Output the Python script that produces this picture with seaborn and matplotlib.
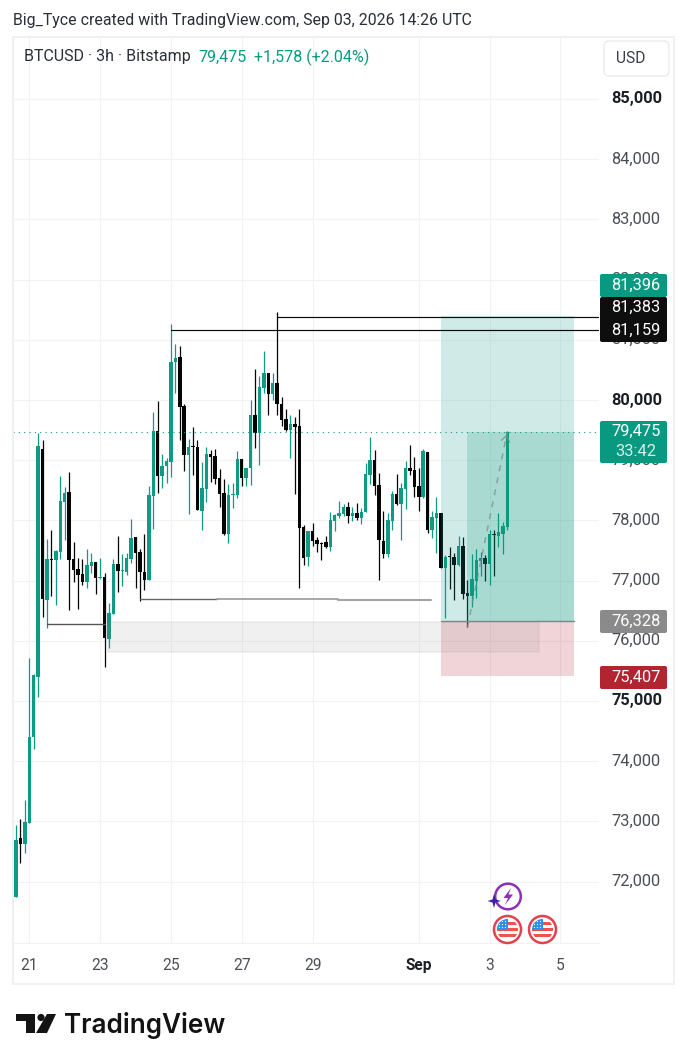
import numpy as np
import pandas as pd
import seaborn as sns
import matplotlib
matplotlib.use("Agg")
import matplotlib.pyplot as plt
from matplotlib.patches import Rectangle, Circle, Polygon, FancyBboxPatch

first_bar = -3
opens = [71745,72725,72625,72974,74402,75399,79186,76678,77359,77342,77475,78306,78472,77359,77193,77110,76977,77243,77309,77043,
77060,76030,76445,77276,77160,77143,77359,77725,77475,77143,77010,78405,79485,78738,78904,78970,80631,80714,79900,79086,
79236,79219,78156,78522,79103,79070,78704,78455,77774,78422,78422,79020,78704,78870,79751,79452,80199,80448,80100,80282,
79934,79684,79502,79601,79568,77891,77392,77824,77675,77625,77641,77558,77990,78073,78106,78223,78073,78123,78040,78140,
78754,79003,78588,77658,77442,77990,78439,78273,78522,78870,78837,78572,78389,79136,77841,78040,78123,77209,77409,77392,
77259,77575,76794,76744,76994,77326,77376,77276,77774,77741,77774,77897]
highs = [72941,73040,73356,75715,75449,79452,79336,77691,77841,77509,78738,78555,78804,77641,77376,77359,77525,77459,77309,77376,
77126,76628,77359,77741,77442,77459,78023,77725,77525,77774,78572,79801,79983,79103,79037,81262,80930,80897,79934,79352,
79552,79336,78970,79219,79170,79186,78854,78688,78605,78621,79153,79020,78870,80000,80515,80399,80814,80448,80448,81462,
80050,79851,79751,79718,79851,77924,77824,77957,77724,77641,77741,78140,78106,78322,78273,78306,78223,78289,78206,78954,
79385,79170,78787,78156,78123,78488,78771,78621,78987,79253,79053,78870,79186,79136,78156,78389,78123,77425,77558,77459,
77741,77724,77010,77442,77525,77475,77425,77841,77841,78123,77974,79485]
lows = [71745,72310,72476,72974,74203,75067,76396,76213,76744,76595,77359,77675,76512,76977,76529,76927,76877,77126,76778,77027,
75565,75881,76445,76811,76911,77093,77293,76877,76661,76844,77010,77857,78455,78538,78621,78721,80116,79336,78821,78106,
78754,78173,77841,78306,78638,78605,78223,77758,77625,78206,78372,78572,78572,78588,79203,78920,80116,79751,80000,79751,
79568,79485,79037,78439,76877,77259,77243,77575,77475,77342,77542,77492,77824,78040,78073,77957,77990,78007,77940,78140,
78605,78422,77010,77376,77392,77841,78256,77675,78190,78754,78389,78156,78372,77791,77708,77459,77209,76379,76861,76678,
77243,76695,76229,76562,76711,77077,76994,76927,77077,77558,77442,77841]
closes = [72692,72625,72991,74402,75432,79236,76695,77359,77342,77492,78322,78455,77342,77176,77093,76977,77259,77309,77043,77060,
76047,76462,77276,77160,77176,77376,77708,77459,77143,77010,78422,79485,78738,78904,78987,80631,80698,79884,79086,79219,
79219,78173,78538,79103,79053,78688,78439,77774,78422,78439,79020,78704,78870,79751,79452,80216,80448,80100,80282,79934,
79668,79502,79601,79552,77874,77376,77824,77658,77608,77608,77558,78007,78090,78123,78223,78073,78123,78040,78140,78771,
79003,78572,77675,77442,78007,78439,78273,78538,78870,78821,78555,78389,79153,77841,78057,78123,77209,77392,77392,77259,
77575,76778,76744,77027,77342,77376,77276,77774,77758,77807,77907,79475]

y_ticks = [72000,73000,74000,75000,76000,77000,78000,79000,80000,81000,82000,83000,84000,85000]
bold_prices = [75000,80000,85000]
date_bars = [0,16,32,48,64,88,104,120]
date_labels = ["21","23","25","27","29","Sep","3","5"]

last_price = 79475
entry_price = 76328
target_price = 81396
stop_price = 75407
level_a = 81159
level_b = 81383
gap_low, gap_high = 75814, 76313
sweep_a = 76280
sweep_b = 76690

GREEN = "#089981"
BODY_GREEN = "#0f9a83"
BLACK = "#050505"
GRID = "#f0f2f4"
TEXT = "#4a4d57"

sns.set_theme(style="white", rc={"axes.facecolor": "white", "figure.facecolor": "white"})
plt.rcParams["font.family"] = ["Roboto", "DejaVu Sans"]

W, H = 686, 1064
fig = plt.figure(figsize=(W/100, H/100), dpi=100)
L, R, T, B = 13, 599, 37, 943
ax = fig.add_axes([L/W, 1-B/H, (R-L)/W, (B-T)/H])

BAR0, BARW = 29.3, 4.426
PX_PER_1000 = 60.2
def px_x(i): return BAR0 + BARW*i
def inv_x(px): return (px-BAR0)/BARW
def inv_y(px): return 80000 + (400-px)/PX_PER_1000*1000

df = pd.DataFrame({"bar": np.arange(first_bar, first_bar+len(opens)),
                   "open": opens, "high": highs, "low": lows, "close": closes})
df["up"] = df["close"] >= df["open"]
df["lo"] = df[["open","close"]].min(axis=1)
df["size"] = (df["close"]-df["open"]).abs().clip(lower=16)

for flag_up, col in [(True, BODY_GREEN), (False, BLACK)]:
    sub = df[df["up"] == flag_up]
    ax.vlines(sub["bar"], sub["low"], sub["high"], color=col, lw=0.9, zorder=3)
    sns.barplot(data=sub, x="bar", y="size", bottom=sub["lo"].values, native_scale=True,
                color=col, saturation=1, width=0.78, gap=0, errorbar=None, legend=False,
                linewidth=0, zorder=4, ax=ax)

ax.set_xlim(inv_x(L), inv_x(R))
ax.set_ylim(inv_y(B), inv_y(T))
ax.set_xlabel(""); ax.set_ylabel("")
for s in ["top","left","right"]:
    ax.spines[s].set_visible(False)
ax.spines["bottom"].set_color(GRID)
ax.spines["bottom"].set_linewidth(0.8)
ax.set_axisbelow(True)
ax.grid(True, color=GRID, lw=0.75)
ax.yaxis.tick_right()
ax.set_yticks(y_ticks)
ax.set_yticklabels([f"{v:,}" for v in y_ticks])
ax.set_xticks(date_bars)
ax.set_xticklabels(date_labels)
ax.tick_params(axis="y", length=0, pad=8.7, labelsize=11.8, labelcolor=TEXT)
ax.tick_params(axis="x", length=0, pad=10.5, labelsize=11.2, labelcolor=TEXT)
for lab, v in zip(ax.get_yticklabels(), y_ticks):
    lab.set_verticalalignment("center")
    if v in bold_prices:
        lab.set_fontweight("bold"); lab.set_color("#1c1e26")
for lab, s in zip(ax.get_xticklabels(), date_labels):
    if s == "Sep":
        lab.set_fontweight("bold"); lab.set_color("#1c1e26")

# drawing tools in price / bar space
def box(x0, x1, p0, p1, **kw):
    ax.add_patch(Rectangle((x0, p0), x1-x0, p1-p0, **kw))
tool0, tool1, tool2 = inv_x(441), inv_x(574), inv_x(467)
box(tool0, tool1, entry_price, target_price, fc=GREEN, alpha=0.19, lw=0, zorder=5)
box(tool2, tool1, entry_price, last_price, fc=GREEN, alpha=0.20, lw=0, zorder=5)
box(tool0, tool1, stop_price, entry_price, fc="#b8283a", alpha=0.20, lw=0, zorder=5)
ax.plot([tool0, tool1], [entry_price]*2, color="#7d8586", lw=1.0, zorder=6)
box(17.8, inv_x(539), gap_low, gap_high, fc="#8a8a8a", ec="#8a8a8a", alpha=0.12, lw=1.1, zorder=5)
ax.plot([4, 17], [sweep_a]*2, color="#555555", lw=1.0, zorder=6)
ax.plot([25, inv_x(217)], [sweep_b]*2, color="#666666", lw=1.0, zorder=6)
ax.plot([inv_x(217), inv_x(338)], [sweep_b]*2, color="#9a9a9a", lw=1.2, zorder=6)
ax.plot([inv_x(338), inv_x(431.5)], [sweep_b-8]*2, color="#a3a3a3", lw=1.5, zorder=6)
ax.plot([32, inv_x(R)], [level_a]*2, color="#0b0b0b", lw=0.85, zorder=7)
ax.plot([56, inv_x(R)], [level_b]*2, color="#0b0b0b", lw=0.85, zorder=7)
ax.plot([inv_x(L), inv_x(R)], [last_price]*2, color=GREEN, lw=0.8, ls=(0,(1,3.8)), zorder=7)
ax.plot([99, 108], [76229, last_price], color="#7f8f8c", alpha=0.75, lw=1.1, ls=(0,(4,4)), zorder=7)
ax.annotate("", xy=(108, last_price), xytext=(107.6, last_price-150),
            arrowprops=dict(arrowstyle="->,head_length=0.35,head_width=0.25", color="#7f8f8c", alpha=0.8, lw=1.0), zorder=7)

# overlay in figure pixels for badges, header and logo
ov = fig.add_axes([0,0,1,1], zorder=10)
ov.set_xlim(0, W); ov.set_ylim(H, 0); ov.axis("off"); ov.patch.set_alpha(0)
ov.add_patch(Rectangle((12.5,36.5), 661, 947, fc="none", ec="#eef0f2", lw=1.4))

ov.text(13, 21, "Big_Tyce created with TradingView.com, Sep 03, 2026 14:26 UTC", fontsize=11.45, color="#2a2e39", va="center")
ov.text(24, 57, "BTCUSD · 3h · Bitstamp", fontsize=11.5, color="#2a2e39", va="center")
ov.text(198, 57, "79,475", fontsize=11.5, color=GREEN, va="center")
ov.text(254, 57, "+1,578 (+2.04%)", fontsize=11.5, color=GREEN, va="center")
ov.add_patch(FancyBboxPatch((607,44), 59, 29, boxstyle="round,pad=3,rounding_size=5", fc="white", ec="#e9ebee", lw=1))
ov.text(631, 58.5, "USD", fontsize=11.2, color="#3a3d47", ha="center", va="center")

def badge(y0, y1, color, lines, colors=None):
    ov.add_patch(FancyBboxPatch((600.5,y0+0.5), 66, y1-y0-1, boxstyle="round,pad=0.5,rounding_size=2", fc=color, ec="none"))
    n = len(lines)
    for k, s in enumerate(lines):
        yc = y0 + (y1-y0)*(k+0.5)/n - 0.5
        ov.text(636, yc, s, fontsize=11.8, color=(colors or ["white"]*n)[k], ha="center", va="center")

badge(274, 297, GREEN, [f"{target_price:,}"])
badge(297, 342, "#0e0e0e", [f"{level_b:,}", f"{level_a:,}"])
badge(421, 463, GREEN, [f"{last_price:,}", "33:42"], ["white", "#d5efe9"])
badge(610, 633, "#8a8a8a", [f"{entry_price:,}"])
badge(666, 689, "#b2242f", [f"{stop_price:,}"])

# calendar icons
def flag(cx, cy):
    ov.add_patch(Circle((cx,cy), 13.5, fc="white", ec="#e5404f", lw=1.8))
    clip = Circle((cx,cy), 10.5, transform=ov.transData)
    items = [Rectangle((cx-11,cy-11), 22, 22, fc="white", ec="none")]
    for dy in (-6, 0, 6):
        items.append(Rectangle((cx-11,cy+dy-2), 22, 3.2, fc="#ef5350", ec="none"))
    items.append(Rectangle((cx-11,cy-11), 11.5, 11, fc="#2f8fe8", ec="none"))
    for it in items:
        ov.add_patch(it); it.set_clip_path(clip)
    for a in (-8,-5,-2):
        for b in (-8,-5,-2):
            d = Circle((cx+a,cy+b), 0.6, fc="white", ec="none"); ov.add_patch(d)
flag(507.5, 929.5); flag(542.5, 929.5)
ov.add_patch(Circle((508,896.5), 12.8, fc="white", ec="#8e2fb8", lw=1.8))
ov.add_patch(Polygon([(511,888),(503.5,898),(508,898),(505,905),(513,894.5),(508.5,894.5)], fc="#8e2fb8", ec="none"))
ov.add_patch(Polygon([(494,894),(495.5,899.5),(501,901),(495.5,902.5),(494,908),(492.5,902.5),(487.5,901),(492.5,899.5)], fc="#3b1f9c", ec="none"))

# logo
ov.add_patch(Polygon([(16,1014),(35,1014),(35,1033),(26,1033),(26,1021),(16,1021)], fc="#131313", ec="none"))
ov.add_patch(Circle((41,1017.5), 3.6, fc="#131313", ec="none"))
ov.add_patch(Polygon([(47,1014),(56,1014),(47,1033),(36,1033)], fc="#131313", ec="none"))
ov.text(64, 1025.5, "TradingView", fontsize=18.8, fontweight="semibold", family=["Inter","DejaVu Sans"], color="#131313", va="center")

fig.savefig("out.png", dpi=100)
